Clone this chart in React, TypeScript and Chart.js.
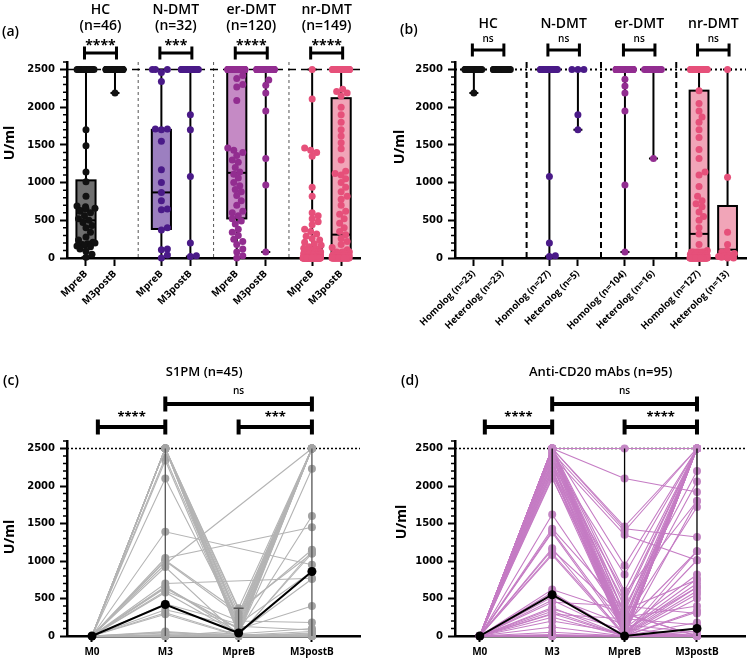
import React, { useEffect, useRef } from 'react';
import { Chart, registerables } from 'chart.js';

Chart.register(...registerables);

// ---------------- data ----------------
const rep = (v: number, n: number): number[] => Array.from({ length: n }, () => v);

const Y_TICKS = [0, 500, 1000, 1500, 2000, 2500];
const GROUPS = ['HC', 'N-DMT', 'er-DMT', 'nr-DMT'];
const GROUP_N_A = ['(n=46)', '(n=32)', '(n=120)', '(n=149)'];
const SIG_A = ['****', '***', '****', '****'];
const SIG_B = ['ns', 'ns', 'ns', 'ns'];
const TICKS_A = ['MpreB', 'M3postB', 'MpreB', 'M3postB', 'MpreB', 'M3postB', 'MpreB', 'M3postB'];
const TICKS_B = [
  'Homolog (n=23)', 'Heterolog (n=23)', 'Homolog (n=27)', 'Heterolog (n=5)',
  'Homolog (n=104)', 'Heterolog (n=16)', 'Homolog (n=127)', 'Heterolog (n=13)',
];
const TIMEPOINTS = ['M0', 'M3', 'MpreB', 'M3postB'];

// panel (a): [min, q1, median, q3, max]
const statsA = [
  [10, 180, 500, 1030, 2500],
  [2190, 2500, 2500, 2500, 2500],
  [0, 385, 870, 1700, 2500],
  [20, 2500, 2500, 2500, 2500],
  [0, 525, 1130, 2500, 2500],
  [80, 2500, 2500, 2500, 2500],
  [0, 0, 0, 120, 2500],
  [0, 0, 310, 2120, 2500],
];
const hcPreA = [...rep(2500, 15), 1700, 1490, 1140, 1010, 820, 690, 680, 660, 650, 630, 620, 600, 560, 520, 500, 470, 430, 400, 340, 280, 240, 210, 200, 190, 180, 170, 160, 150, 120, 90, 50, 10];
const hcPostA = [...rep(2500, 45), 2190];
const nPreA = [2500, 2500, 2500, 2460, 2340, 1710, 1710, 1700, 1550, 1170, 1000, 870, 760, 650, 640, 400, 370, 120, 110, 40, 0];
const nPostA = [...rep(2500, 26), 1900, 1700, 1080, 200, 30, 20];
const erPreA = [...rep(2500, 55), 2420, 2380, 2300, 2270, 2090, 1460, 1430, 1400, 1360, 1300, 1270, 1200, 1140, 1110, 1060, 1000, 960, 910, 880, 830, 760, 700, 620, 600, 560, 520, 490, 450, 380, 340, 300, 250, 220, 180, 120, 80, 30, 0];
const erPostA = [...rep(2500, 110), 2360, 2290, 2190, 1950, 1320, 970, 80];
const nrPreA = [2500, 2110, 1460, 1430, 1400, 1350, 940, 820, 600, 560, 520, 480, 440, 380, 350, 320, 290, 260, 240, 210, 190, 170, 150, 130, 120, 110, ...rep(100, 4), ...rep(80, 6), ...rep(60, 8), ...rep(40, 10), ...rep(20, 15), ...rep(0, 60)];
const nrPostA = [...rep(2500, 40), 2240, 2210, 2190, 2150, 2000, 1900, 1800, 1700, 1620, 1530, 1450, 1300, 1150, 1120, 1100, 1050, 1000, 940, 880, 820, 780, 700, 620, 580, 520, 460, 400, 350, 310, 260, 220, 180, 140, 110, ...rep(80, 4), ...rep(50, 6), ...rep(30, 10), ...rep(0, 30)];

// panel (b)
const statsB = [
  [2190, 2500, 2500, 2500, 2500],
  [2500, 2500, 2500, 2500, 2500],
  [20, 2500, 2500, 2500, 2500],
  [1700, 2500, 2500, 2500, 2500],
  [80, 2500, 2500, 2500, 2500],
  [1320, 2500, 2500, 2500, 2500],
  [0, 0, 320, 2220, 2500],
  [0, 0, 110, 690, 2500],
];
const hcHomB = [...rep(2500, 22), 2190];
const hcHetB = rep(2500, 23);
const nHomB = [...rep(2500, 23), 1080, 200, 30, 20];
const nHetB = [2500, 2500, 2500, 1900, 1700];
const erHomB = [...rep(2500, 98), 2370, 2280, 2190, 1950, 970, 80];
const erHetB = [...rep(2500, 15), 1320];
const nrHomB = [...rep(2500, 30), 2220, 2050, 1950, 1870, 1800, 1700, 1600, 1440, 1320, 1140, 1100, 950, 820, 760, 720, 680, 610, 550, 500, 400, 320, 180, 100, ...rep(80, 6), ...rep(50, 8), ...rep(30, 10), ...rep(0, 40)];
const nrHetB = [2500, 1070, 340, 180, 100, 80, 60, 40, 30, 20, 10, 0, 0];

// panel (c): S1PM subjects
const s1pmM0 = rep(0, 45);
const s1pmM3 = [2500, 2500, 2500, 2500, 2500, 2500, 2500, 2500, 2500, 2500, 2380, 2340, 2100, 1390, 1040, 1010, 960, 920, 700, 660, 640, 600, 580, 350, 310, 290, 60, 40, 20, 0, 0, 0, 0, 0, 10, 0, 0, 430, 1000, 2500, 2500, 50, 0, 650, 0];
const s1pmPreB = [300, 250, 200, 150, 100, 80, 50, 30, 20, 370, 120, 60, 180, null, null, 320, null, 10, null, 40, 90, 200, 30, 130, 10, 0, 0, 20, 0, 0, 70, 0, 10, 0, 0, 40, 0, 160, 280, 350, 220, 0, 0, 100, 0];
const s1pmPostB = [2500, 2500, 2500, 2500, 2500, 2500, 2500, 2230, 2500, 2500, 2500, 1600, 2500, 950, 1450, 1150, 2500, 1100, 770, 760, 400, 180, 100, 80, 60, 40, 20, 0, 0, 0, 2500, 1130, 0, 0, 30, 2500, 0, 860, 2500, 1100, 2500, 0, 10, 2500, 0];
const s1pmMedian = [0, 420, 40, 860];
const s1pmBarHigh = [0, 2500, 370, 2500];

// panel (d): anti-CD20 subjects
const cd20M0 = rep(0, 70);
const cd20M3 = [2500, 2500, 2500, 2500, 2450, 2400, 2500, 2350, 2500, 2300, 2500, 2250, 2500, 2200, 2500, 2150, 2500, 2100, 2500, 2480, 2420, 2500, 2380, 2500, 2330, 2500, 2280, 2500, 2230, 2500, 2180, 2500, 2120, 2500, 1620, 1430, 1400, 1380, 1170, 1150, 1100, 1080, 620, 580, 520, 480, 450, 380, 360, 330, 290, 250, 200, 120, 50, 0, 0, 0, 20, 0, 2500, 2500, 2400, 2500, 2300, 2500, 2450, 2200, 300, 0];
const cd20PreB = [2500, 2100, 1460, 1430, 1400, 1350, 940, 820, 600, 570, 500, 450, 380, 320, 280, 250, 200, 180, 150, 120, 100, 80, 60, 50, 40, 30, 20, 10, 0, 0, 0, 0, 0, 0, 200, 350, 100, 50, 0, 250, 30, 0, 300, 0, 150, 20, 400, 0, 80, 0, 230, 0, 40, 0, 0, 0, 10, 0, 0, 0, 0, 60, 0, 20, 0, 300, 0, 0, 0, 0];
const cd20PostB = [2500, 1920, 2500, 1320, 2500, 1010, 2500, 2500, 2500, 1800, 2500, 2500, 2200, 2500, 2060, 2500, 1720, 2500, 1130, 2500, 820, 2500, 760, 700, 2500, 650, 600, 560, 500, 340, 320, 180, 100, 60, 2500, 750, 0, 1800, 2500, 400, 0, 1010, 0, 2500, 50, 0, 300, 0, 650, 0, 150, 0, 2500, 0, 30, 0, 1130, 0, 2500, 0, 2500, 2500, 0, 10, 2500, 0, 100, 2500, 0, 0];
const cd20Median = [0, 550, 0, 100];
const cd20BarHigh = [0, 2500, 2500, 2500];

// ---------------- layout / style ----------------
const FONT = '"Open Sans", "DejaVu Sans", sans-serif';
const NUM_FONT = '"DejaVu Sans", sans-serif';
const POINT_COLORS = ['#111111', '#4a1a88', '#922d90', '#e6507a'];
const BOX_FILLS = ['#6f6f6f', '#9c7fc0', '#c58ac5', '#f1a5b8'];
const POS_A = [0, 1, 2.6, 3.6, 5.2, 6.2, 7.8, 8.8];
const POS_B = [0, 1, 2.65, 3.65, 5.3, 6.3, 7.9, 8.9];
const PX_PER_Y = 188 / 2500;

function swarmOffsets(values: number[], pxPerX: number, halfPx: number): number[] {
  const minD = 5.5;
  const placed: { x: number; y: number }[] = [];
  const offs = new Array(values.length).fill(0);
  const order = values.map((_, i) => i).sort((a, b) => values[a] - values[b]);
  let spill = 0;
  for (const i of order) {
    const y = values[i] * PX_PER_Y;
    let chosen: number | null = null;
    for (let s = 0; s < 100; s++) {
      const cand = (s % 2 === 1 ? 1 : -1) * Math.ceil(s / 2) * 1.5;
      if (Math.abs(cand) > halfPx) break;
      let ok = true;
      for (const p of placed) {
        if ((p.x - cand) ** 2 + (p.y - y) ** 2 < minD * minD) { ok = false; break; }
      }
      if (ok) { chosen = cand; break; }
    }
    if (chosen === null) {
      chosen = -halfPx + ((spill * 5.3) % (2 * halfPx));
      spill++;
    }
    placed.push({ x: chosen, y });
    offs[i] = chosen / pxPerX;
  }
  return offs;
}

function yScale(yw: number) {
  return {
    type: 'linear',
    min: 0,
    max: 2600,
    afterBuildTicks: (s: any) => { s.ticks = Y_TICKS.map((v) => ({ value: v })); },
    afterFit: (s: any) => { s.width = yw; },
    ticks: {
      font: { family: NUM_FONT, weight: 'bold', size: 10 },
      color: '#000',
      padding: 5,
      callback: (v: any) => String(v),
    },
    grid: { drawOnChartArea: false, tickLength: 7, tickWidth: 2, tickColor: '#000' },
    border: { color: '#000', width: 2.5 },
  };
}

function drawMinorTicks(chart: any) {
  const { ctx, chartArea } = chart;
  const ys = chart.scales.y;
  ctx.save();
  ctx.strokeStyle = '#000';
  ctx.lineWidth = 1.5;
  ctx.beginPath();
  for (let v = 100; v <= 2600; v += 100) {
    if (v % 500 === 0) continue;
    const y = ys.getPixelForValue(v);
    ctx.moveTo(chartArea.left - 4, y);
    ctx.lineTo(chartArea.left, y);
  }
  ctx.stroke();
  ctx.restore();
}

function drawText(ctx: any, text: string, x: number, y: number, font: string, align = 'center') {
  ctx.save();
  ctx.font = font;
  ctx.fillStyle = '#000';
  ctx.textAlign = align;
  ctx.textBaseline = 'alphabetic';
  ctx.fillText(text, x, y);
  ctx.restore();
}

function drawYTitle(ctx: any, x: number, y: number) {
  ctx.save();
  ctx.translate(x, y);
  ctx.rotate(-Math.PI / 2);
  ctx.font = `bold 14px ${FONT}`;
  ctx.fillStyle = '#000';
  ctx.textAlign = 'center';
  ctx.textBaseline = 'middle';
  ctx.fillText('U/ml', 0, 0);
  ctx.restore();
}

function drawBracket(ctx: any, x1: number, x2: number, y: number, half: number, lw: number) {
  ctx.save();
  ctx.strokeStyle = '#000';
  ctx.lineWidth = lw;
  ctx.lineCap = 'butt';
  ctx.beginPath();
  ctx.moveTo(x1, y); ctx.lineTo(x2, y);
  ctx.moveTo(x1, y - half); ctx.lineTo(x1, y + half);
  ctx.moveTo(x2, y - half); ctx.lineTo(x2, y + half);
  ctx.stroke();
  ctx.restore();
}

function drawRefLine(chart: any, dash: number[], width: number) {
  const { ctx, chartArea } = chart;
  const y = chart.scales.y.getPixelForValue(2500);
  ctx.save();
  ctx.strokeStyle = '#000';
  ctx.lineWidth = width;
  ctx.setLineDash(dash);
  ctx.beginPath();
  ctx.moveTo(chartArea.left, y);
  ctx.lineTo(chartArea.right, y);
  ctx.stroke();
  ctx.restore();
}

// ---------------- box panels ----------------
function makeBoxChart(canvas: HTMLCanvasElement, cfg: any) {
  const datasets = cfg.values.map((vals: number[], i: number) => {
    const offs = swarmOffsets(vals, cfg.pxPerX, 9);
    return {
      type: 'scatter',
      data: vals.map((v, j) => ({ x: cfg.positions[i] + offs[j], y: v })),
      pointRadius: 3.5,
      pointBackgroundColor: POINT_COLORS[Math.floor(i / 2)],
      pointBorderWidth: 0,
      showLine: false,
      clip: false,
    };
  });

  const plugin = {
    id: 'boxes',
    beforeDatasetsDraw(chart: any) {
      const { ctx, chartArea } = chart;
      const xs = chart.scales.x;
      const ys = chart.scales.y;
      ctx.save();
      ctx.strokeStyle = cfg.sepColor;
      ctx.lineWidth = cfg.sepWidth;
      ctx.setLineDash(cfg.sepDash);
      cfg.separators.forEach((s: number) => {
        const x = xs.getPixelForValue(s);
        ctx.beginPath();
        ctx.moveTo(x, chartArea.top);
        ctx.lineTo(x, chartArea.bottom);
        ctx.stroke();
      });
      ctx.restore();
      drawRefLine(chart, cfg.refDash, cfg.refWidth);
      const unit = xs.getPixelForValue(1) - xs.getPixelForValue(0);
      const hw = unit * 0.33;
      cfg.stats.forEach((s: number[], i: number) => {
        const [mn, q1, md, q3, mx] = s;
        const cx = xs.getPixelForValue(cfg.positions[i]);
        const Y = (v: number) => ys.getPixelForValue(v);
        ctx.save();
        ctx.strokeStyle = '#000';
        ctx.lineWidth = 2;
        ctx.beginPath();
        if (mn < q1) {
          ctx.moveTo(cx, Y(q1)); ctx.lineTo(cx, Y(mn));
          ctx.moveTo(cx - 4.5, Y(mn)); ctx.lineTo(cx + 4.5, Y(mn));
        }
        if (mx > q3) {
          ctx.moveTo(cx, Y(q3)); ctx.lineTo(cx, Y(mx));
          ctx.moveTo(cx - 4.5, Y(mx)); ctx.lineTo(cx + 4.5, Y(mx));
        }
        ctx.stroke();
        if (q3 > q1) {
          ctx.fillStyle = BOX_FILLS[Math.floor(i / 2)];
          ctx.fillRect(cx - hw, Y(q3), 2 * hw, Y(q1) - Y(q3));
          ctx.strokeRect(cx - hw, Y(q3), 2 * hw, Y(q1) - Y(q3));
          ctx.beginPath();
          ctx.moveTo(cx - hw, Y(md)); ctx.lineTo(cx + hw, Y(md));
          ctx.stroke();
        }
        ctx.restore();
      });
    },
    afterDraw(chart: any) {
      const { ctx } = chart;
      const xs = chart.scales.x;
      drawMinorTicks(chart);
      drawYTitle(ctx, cfg.yTitleX, cfg.yTitleY);
      drawText(ctx, cfg.panelLabel, cfg.panelX, cfg.panelY, `600 14px ${FONT}`, 'left');
      GROUPS.forEach((g, gi) => {
        const x1 = xs.getPixelForValue(cfg.positions[gi * 2]);
        const x2 = xs.getPixelForValue(cfg.positions[gi * 2 + 1]);
        const mid = (x1 + x2) / 2;
        drawText(ctx, g, mid, cfg.titleBaseline, `600 14px ${FONT}`);
        if (cfg.subtitles) drawText(ctx, cfg.subtitles[gi], mid, cfg.subBaseline, `600 14px ${FONT}`);
        drawBracket(ctx, x1 - 1.5, x2 + 1.5, cfg.bracketY, cfg.bracketHalf, 3);
        drawText(ctx, cfg.sig[gi], mid, cfg.sigBaseline, cfg.sigFont);
      });
    },
  };

  return new Chart(canvas, {
    type: 'scatter',
    data: { datasets },
    options: {
      responsive: false,
      animation: false,
      devicePixelRatio: 1,
      layout: { padding: cfg.padding },
      plugins: { legend: { display: false }, tooltip: { enabled: false } },
      scales: {
        x: {
          type: 'linear',
          min: cfg.xMin,
          max: cfg.xMax,
          afterBuildTicks: (s: any) => { s.ticks = cfg.positions.map((v: number) => ({ value: v })); },
          afterFit: (s: any) => { s.height = cfg.xh; },
          ticks: {
            autoSkip: false,
            minRotation: 45,
            maxRotation: 45,
            padding: 2,
            color: '#000',
            font: { family: FONT, weight: 'bold', size: cfg.tickFont },
            callback: (_v: any, i: number) => cfg.tickLabels[i],
          },
          grid: { drawOnChartArea: false, tickLength: 8, tickWidth: 2, tickColor: '#000' },
          border: { color: '#000', width: 2.5 },
        },
        y: yScale(cfg.yw),
      },
    } as any,
    plugins: [plugin],
  } as any);
}

// ---------------- line panels ----------------
function makeLineChart(canvas: HTMLCanvasElement, cfg: any) {
  const datasets: any[] = cfg.m3.map((_: any, i: number) => ({
    type: 'scatter',
    showLine: true,
    spanGaps: true,
    data: [cfg.m0[i], cfg.m3[i], cfg.pre[i], cfg.post[i]].map((y: any, j: number) => ({ x: j, y })),
    borderColor: cfg.lineColor,
    borderWidth: 1.1,
    pointRadius: 4,
    pointBackgroundColor: cfg.pointColor,
    pointBorderWidth: 0,
    clip: false,
    order: 1,
  }));
  const medianIndex = datasets.length;
  datasets.push({
    type: 'scatter',
    showLine: true,
    data: cfg.median.map((y: number, j: number) => ({ x: j, y })),
    borderColor: '#000',
    borderWidth: 2,
    pointRadius: 4.5,
    pointBackgroundColor: '#000',
    pointBorderWidth: 0,
    clip: false,
    order: 0,
  });

  const plugin = {
    id: 'lines',
    beforeDatasetsDraw(chart: any) {
      drawRefLine(chart, [2, 2], 1.5);
    },
    beforeDatasetDraw(chart: any, args: any) {
      if (args.index !== medianIndex) return;
      const { ctx } = chart;
      const xs = chart.scales.x;
      const ys = chart.scales.y;
      ctx.save();
      ctx.strokeStyle = cfg.barColor;
      ctx.lineWidth = 1.3;
      cfg.barHigh.forEach((hi: number, j: number) => {
        if (hi <= 0) return;
        const x = xs.getPixelForValue(j);
        ctx.beginPath();
        ctx.moveTo(x, ys.getPixelForValue(0));
        ctx.lineTo(x, ys.getPixelForValue(hi));
        if (hi < 2500) {
          ctx.moveTo(x - 5, ys.getPixelForValue(hi));
          ctx.lineTo(x + 5, ys.getPixelForValue(hi));
        }
        ctx.stroke();
      });
      ctx.restore();
    },
    afterDraw(chart: any) {
      const { ctx } = chart;
      const xs = chart.scales.x;
      drawMinorTicks(chart);
      drawYTitle(ctx, cfg.yTitleX, cfg.yTitleY);
      drawText(ctx, cfg.panelLabel, cfg.panelX, cfg.panelY, `600 14px ${FONT}`, 'left');
      drawText(ctx, cfg.title, xs.getPixelForValue(cfg.titleX), cfg.titleBaseline, `600 13px ${FONT}`);
      cfg.brackets.forEach((b: any) => {
        const x1 = xs.getPixelForValue(b.x1);
        const x2 = xs.getPixelForValue(b.x2);
        drawBracket(ctx, x1, x2, b.y, 7.5, 4);
        const isNs = b.text === 'ns';
        drawText(ctx, b.text, (x1 + x2) / 2, b.ty, isNs ? `600 10px ${FONT}` : `bold 13px ${FONT}`);
      });
    },
  };

  return new Chart(canvas, {
    type: 'scatter',
    data: { datasets },
    options: {
      responsive: false,
      animation: false,
      devicePixelRatio: 1,
      layout: { padding: cfg.padding },
      plugins: { legend: { display: false }, tooltip: { enabled: false } },
      scales: {
        x: {
          type: 'linear',
          min: cfg.xMin,
          max: cfg.xMax,
          afterBuildTicks: (s: any) => { s.ticks = TIMEPOINTS.map((_, i) => ({ value: i })); },
          afterFit: (s: any) => { s.height = cfg.xh; },
          ticks: {
            autoSkip: false,
            maxRotation: 0,
            minRotation: 0,
            padding: 4,
            color: '#000',
            font: { family: FONT, weight: 'bold', size: 10 },
            callback: (_v: any, i: number) => TIMEPOINTS[i],
          },
          grid: { drawOnChartArea: false, tickLength: 6, tickWidth: 2, tickColor: '#000' },
          border: { color: '#000', width: 2.5 },
        },
        y: yScale(cfg.yw),
      },
    } as any,
    plugins: [plugin],
  } as any);
}

const cfgA = {
  positions: POS_A, xMin: -0.655, xMax: 9.45, pxPerX: 29,
  tickLabels: TICKS_A, tickFont: 10,
  stats: statsA, values: [hcPreA, hcPostA, nPreA, nPostA, erPreA, erPostA, nrPreA, nrPostA],
  separators: [1.8, 4.4, 7.0], sepDash: [3, 3], sepWidth: 1, sepColor: '#555',
  refDash: [8, 5], refWidth: 1.5,
  padding: { left: 1, top: 62, right: 15, bottom: 0 }, yw: 66, xh: 73,
  subtitles: GROUP_N_A, titleBaseline: 14, subBaseline: 30,
  sig: SIG_A, sigFont: `bold 14px ${FONT}`, sigBaseline: 50, bracketY: 53, bracketHalf: 6.5,
  panelLabel: '(a)', panelX: 2, panelY: 36, yTitleX: 10, yTitleY: 143,
};

const cfgB = {
  positions: POS_B, xMin: -0.662, xMax: 9.547, pxPerX: 28.7,
  tickLabels: TICKS_B, tickFont: 9.5,
  stats: statsB, values: [hcHomB, hcHetB, nHomB, nHetB, erHomB, erHetB, nrHomB, nrHetB],
  separators: [1.85, 4.46, 7.1], sepDash: [6, 4], sepWidth: 2, sepColor: '#000',
  refDash: [2, 3], refWidth: 2,
  padding: { left: 16, top: 62, right: 2, bottom: 0 }, yw: 64, xh: 73,
  subtitles: null, titleBaseline: 28, subBaseline: 0,
  sig: SIG_B, sigFont: `600 10px ${FONT}`, sigBaseline: 42, bracketY: 50, bracketHalf: 6.5,
  panelLabel: '(b)', panelX: 25, panelY: 34, yTitleX: 25, yTitleY: 147,
};

const cfgC = {
  m0: s1pmM0, m3: s1pmM3, pre: s1pmPreB, post: s1pmPostB, median: s1pmMedian, barHigh: s1pmBarHigh,
  lineColor: '#b4b4b4', pointColor: '#a3a3a3', barColor: '#555',
  xMin: -0.341, xMax: 3.656,
  padding: { left: 1, top: 110, right: 15, bottom: 0 }, yw: 66, xh: 26,
  title: 'S1PM (n=45)', titleX: 1.53, titleBaseline: 45,
  brackets: [
    { x1: 0.08, x2: 1, y: 96, text: '****', ty: 90 },
    { x1: 2, x2: 3, y: 96, text: '***', ty: 90 },
    { x1: 1, x2: 3, y: 73, text: 'ns', ty: 63 },
  ],
  panelLabel: '(c)', panelX: 3, panelY: 54, yTitleX: 10, yTitleY: 206,
};

const cfgD = {
  m0: cd20M0, m3: cd20M3, pre: cd20PreB, post: cd20PostB, median: cd20Median, barHigh: cd20BarHigh,
  lineColor: '#c57cc4', pointColor: '#c487c4', barColor: '#000',
  xMin: -0.342, xMax: 3.67,
  padding: { left: 18, top: 110, right: 2, bottom: 0 }, yw: 62, xh: 26,
  title: 'Anti-CD20 mAbs (n=95)', titleX: 1.67, titleBaseline: 45,
  brackets: [
    { x1: 0.07, x2: 1, y: 96, text: '****', ty: 90 },
    { x1: 2, x2: 3, y: 96, text: '****', ty: 90 },
    { x1: 1, x2: 3, y: 73, text: 'ns', ty: 63 },
  ],
  panelLabel: '(d)', panelX: 26, panelY: 54, yTitleX: 27, yTitleY: 191,
};

export default function App() {
  const aRef = useRef<HTMLCanvasElement>(null);
  const bRef = useRef<HTMLCanvasElement>(null);
  const cRef = useRef<HTMLCanvasElement>(null);
  const dRef = useRef<HTMLCanvasElement>(null);

  useEffect(() => {
    const charts = [
      makeBoxChart(aRef.current as HTMLCanvasElement, cfgA),
      makeBoxChart(bRef.current as HTMLCanvasElement, cfgB),
      makeLineChart(cRef.current as HTMLCanvasElement, cfgC),
      makeLineChart(dRef.current as HTMLCanvasElement, cfgD),
    ];
    return () => charts.forEach((c) => c.destroy());
  }, []);

  const cs = (left: number, top: number): React.CSSProperties => ({ position: 'absolute', left, top, display: 'block' });

  return (
    <div style={{ position: 'absolute', left: 0, top: 0, width: 750, height: 662, background: '#fff', overflow: 'hidden' }}>
      <canvas ref={aRef} width={375} height={331} style={cs(0, 0)} />
      <canvas ref={bRef} width={375} height={331} style={cs(375, 0)} />
      <canvas ref={cRef} width={375} height={331} style={cs(0, 331)} />
      <canvas ref={dRef} width={375} height={331} style={cs(375, 331)} />
    </div>
  );
}
